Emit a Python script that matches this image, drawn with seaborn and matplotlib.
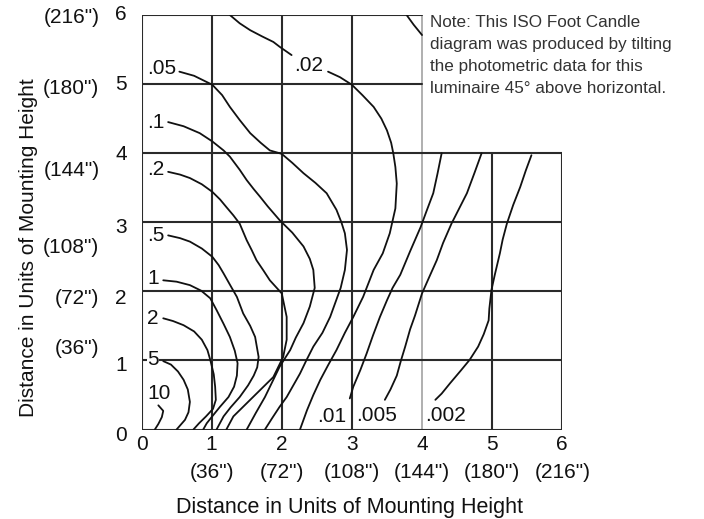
import matplotlib
matplotlib.use("Agg")
import matplotlib.pyplot as plt
import seaborn as sns
import pandas as pd

# ---------------- data ----------------
levels = ["10", "5", "2", "1", ".5", ".2", ".1", ".05", ".02a", ".02b", ".01", ".01b", ".005", ".002"]

x_10 = [0.24, 0.31, 0.29, 0.24, 0.19]
y_10 = [0.35, 0.27, 0.18, 0.08, 0.0]

x_5 = [0.31, 0.42, 0.52, 0.60, 0.66, 0.69, 0.67, 0.62, 0.50]
y_5 = [0.99, 0.94, 0.84, 0.72, 0.58, 0.40, 0.25, 0.14, 0.0]

x_2 = [0.31, 0.45, 0.60, 0.75, 0.86, 0.94, 0.98, 1.03, 1.05, 1.06, 1.02, 0.92, 0.82, 0.74]
y_2 = [1.61, 1.57, 1.51, 1.42, 1.30, 1.15, 1.01, 0.80, 0.62, 0.43, 0.30, 0.19, 0.09, 0.0]

x_1 = [0.31, 0.50, 0.69, 0.85, 0.98, 1.07, 1.17, 1.26, 1.33, 1.37, 1.36, 1.32, 1.24, 1.12, 1.00, 0.93, 0.88]
y_1 = [2.16, 2.14, 2.09, 2.01, 1.90, 1.73, 1.53, 1.34, 1.14, 0.96, 0.78, 0.62, 0.47, 0.33, 0.18, 0.09, 0.0]

x_p5 = [0.38, 0.55, 0.69, 0.86, 1.01, 1.10, 1.17, 1.27, 1.36, 1.45, 1.55, 1.62, 1.67, 1.65, 1.60, 1.52, 1.40, 1.27, 1.17, 1.07]
y_p5 = [2.81, 2.77, 2.72, 2.62, 2.50, 2.38, 2.26, 2.08, 1.92, 1.68, 1.50, 1.34, 1.05, 0.90, 0.78, 0.64, 0.47, 0.32, 0.19, 0.0]

x_p2 = [0.38, 0.55, 0.69, 0.86, 1.01, 1.12, 1.21, 1.31, 1.40, 1.50, 1.57, 1.64, 1.74, 1.83, 2.00, 2.07, 2.07, 2.02, 1.88, 1.72, 1.55, 1.40, 1.31, 1.21]
y_p2 = [3.73, 3.69, 3.64, 3.55, 3.44, 3.33, 3.22, 3.10, 2.98, 2.74, 2.60, 2.45, 2.30, 2.16, 1.97, 1.63, 1.30, 1.05, 0.76, 0.60, 0.43, 0.28, 0.19, 0.0]

x_p1 = [0.38, 0.60, 0.83, 1.01, 1.17, 1.26, 1.40, 1.50, 1.60, 1.69, 1.80, 1.97, 2.15, 2.31, 2.40, 2.45, 2.47, 2.40, 2.31, 2.20, 2.12, 1.97, 1.87, 1.76, 1.63, 1.50]
y_p1 = [4.45, 4.39, 4.29, 4.17, 4.04, 3.95, 3.76, 3.61, 3.48, 3.37, 3.23, 3.03, 2.85, 2.65, 2.47, 2.31, 2.05, 1.78, 1.54, 1.33, 1.15, 0.91, 0.70, 0.47, 0.24, 0.0]

x_p05 = [0.54, 0.75, 1.01, 1.15, 1.26, 1.40, 1.55, 1.70, 1.83, 2.00, 2.15, 2.31, 2.48, 2.64, 2.78, 2.85, 2.90, 2.93, 2.90, 2.84, 2.69, 2.58, 2.45, 2.35, 2.26, 2.07, 1.97, 1.86, 1.76]
y_p05 = [5.18, 5.12, 4.99, 4.84, 4.67, 4.48, 4.29, 4.15, 4.04, 3.99, 3.86, 3.71, 3.57, 3.42, 3.18, 3.00, 2.84, 2.60, 2.31, 2.05, 1.63, 1.40, 1.20, 1.00, 0.81, 0.47, 0.33, 0.16, 0.0]

x_p02a = [1.26, 1.40, 1.55, 1.72, 1.88, 1.97, 2.14]
y_p02a = [6.00, 5.88, 5.78, 5.69, 5.61, 5.54, 5.42]

x_p02b = [2.66, 2.83, 3.00, 3.15, 3.31, 3.42, 3.50, 3.56, 3.59, 3.62, 3.64, 3.62, 3.54, 3.44, 3.31, 3.16, 3.02, 2.90, 2.78, 2.66, 2.55, 2.45, 2.36, 2.26]
y_p02b = [5.18, 5.10, 4.99, 4.84, 4.67, 4.50, 4.33, 4.15, 4.00, 3.80, 3.56, 3.20, 2.84, 2.55, 2.31, 1.92, 1.63, 1.40, 1.15, 0.93, 0.72, 0.50, 0.28, 0.0]

x_p01 = [4.28, 4.22, 4.16, 4.06, 3.98, 3.83, 3.69, 3.58, 3.50, 3.40, 3.30, 3.21, 3.12, 3.02, 2.97]
y_p01 = [4.00, 3.70, 3.42, 3.15, 2.93, 2.58, 2.24, 2.05, 1.87, 1.63, 1.36, 1.10, 0.86, 0.62, 0.45]

x_p01b = [3.78, 3.88, 4.00]
y_p01b = [6.00, 5.86, 5.71]

x_p005 = [4.85, 4.75, 4.64, 4.53, 4.42, 4.30, 4.21, 4.10, 4.00, 3.90, 3.83, 3.76, 3.70, 3.64, 3.55, 3.47]
y_p005 = [4.00, 3.72, 3.42, 3.20, 2.98, 2.70, 2.45, 2.20, 1.97, 1.65, 1.45, 1.20, 1.00, 0.78, 0.58, 0.43]

x_p002 = [5.56, 5.48, 5.40, 5.30, 5.21, 5.15, 5.11, 5.04, 4.99, 4.96, 4.95, 4.88, 4.80, 4.68, 4.55, 4.40, 4.28, 4.19]
y_p002 = [3.97, 3.75, 3.51, 3.25, 2.98, 2.75, 2.55, 2.25, 2.02, 1.75, 1.58, 1.38, 1.20, 1.01, 0.85, 0.67, 0.52, 0.43]

curve_x = [x_10, x_5, x_2, x_1, x_p5, x_p2, x_p1, x_p05, x_p02a, x_p02b, x_p01, x_p01b, x_p005, x_p002]
curve_y = [y_10, y_5, y_2, y_1, y_p5, y_p2, y_p1, y_p05, y_p02a, y_p02b, y_p01, y_p01b, y_p005, y_p002]

# contour labels
label_text = [".05", ".1", ".2", ".5", "1", "2", "5", "10", ".02", ".01", ".005", ".002"]
label_x = [0.08, 0.08, 0.08, 0.08, 0.08, 0.08, 0.08, 0.08, 2.18, 2.50, 3.06, 4.04]
label_y = [5.22, 4.45, 3.76, 2.81, 2.19, 1.61, 1.01, 0.52, 5.27, 0.19, 0.20, 0.21]

x_ticks = [0, 1, 2, 3, 4, 5, 6]
x_inch = ["", '(36")', '(72")', '(108")', '(144")', '(180")', '(216")']
y_tick_labels = ["0", "1", "2", "3", "4", "5", "6"]
y_tick_pos = [-0.08, 0.92, 1.90, 2.92, 3.98, 4.99, 6.0]
y_inch_labels = ['(36")', '(72")', '(108")', '(144")', '(180")', '(216")']
y_inch_pos = [1.18, 1.90, 2.63, 3.75, 4.94, 5.97]

note = ("Note: This ISO Foot Candle\ndiagram was produced by tilting\n"
        "the photometric data for this\nluminaire 45\u00b0 above horizontal.")
axis_title = "Distance in Units of Mounting Height"

# ---------------- figure ----------------
sns.set_theme(style="white")
plt.rcParams["font.family"] = ["Liberation Sans", "DejaVu Sans"]

fig = plt.figure(figsize=(7.04, 5.19), dpi=100)
ax = fig.add_axes([0.201, 0.1724, 0.5977, 0.7987])
ax.set_xlim(0, 6)
ax.set_ylim(0, 6)
for s in ax.spines.values():
    s.set_visible(False)
ax.set_xticks([])
ax.set_yticks([])

gc = "#2a2a2a"
glw = 1.5
# grid / frame
for v in [0, 1, 2, 3]:
    ax.plot([v, v], [0, 6], color=gc, lw=glw, zorder=5 if v == 0 else 2, solid_capstyle="butt")
ax.plot([4, 4], [0, 6], color="#9a9a9a", lw=1.1, zorder=2)
for v in [5, 6]:
    ax.plot([v, v], [0, 4], color=gc, lw=glw, zorder=2)
for h in [0, 1, 2, 3, 4]:
    ax.plot([0, 6], [h, h], color=gc, lw=glw, zorder=2)
for h in [5, 6]:
    ax.plot([0, 4], [h, h], color=gc, lw=glw, zorder=2)

# contour curves
rows = []
for name, xs, ys in zip(levels, curve_x, curve_y):
    for i, (xx, yy) in enumerate(zip(xs, ys)):
        rows.append({"level": name, "x": xx, "y": yy, "order": i})
df = pd.DataFrame(rows)
sns.lineplot(data=df, x="x", y="y", units="level", estimator=None, sort=False,
             color="#111111", lw=1.3, ax=ax, legend=False, zorder=3)
ax.set_xlabel("")
ax.set_ylabel("")
ax.set_xlim(0, 6)
ax.set_ylim(0, 6)

fs = 15
for t, lx, ly in zip(label_text, label_x, label_y):
    ax.text(lx, ly, t, fontsize=fs, ha="left", va="center", color="#111111", zorder=4,
            bbox=dict(facecolor="white", edgecolor="none", pad=0.3))

# tick labels
for xt, lab in zip(x_ticks, x_inch):
    ax.text(xt, -0.22, str(xt), fontsize=fs, ha="center", va="center", color="#111111", clip_on=False)
    if lab:
        ax.text(xt, -0.62, lab, fontsize=fs, ha="center", va="center", color="#111111", clip_on=False)
for lab, yp in zip(y_tick_labels, y_tick_pos):
    ax.text(-0.29, yp, lab, fontsize=fs, ha="center", va="center", color="#111111", clip_on=False)
for lab, yp in zip(y_inch_labels, y_inch_pos):
    ax.text(-0.60, yp, lab, fontsize=fs, ha="right", va="center", color="#111111", clip_on=False)

fig.text(0.496, 0.023, axis_title, fontsize=15.5, ha="center", va="center", color="#111111")
fig.text(0.041, 0.522, axis_title, fontsize=15, ha="center", va="center", rotation=90, color="#111111")

ax.text(4.12, 6.0, note, fontsize=12.3, ha="left", va="top", color="#333333",
        linespacing=1.58, clip_on=False)

fig.savefig("out.png", dpi=100)
